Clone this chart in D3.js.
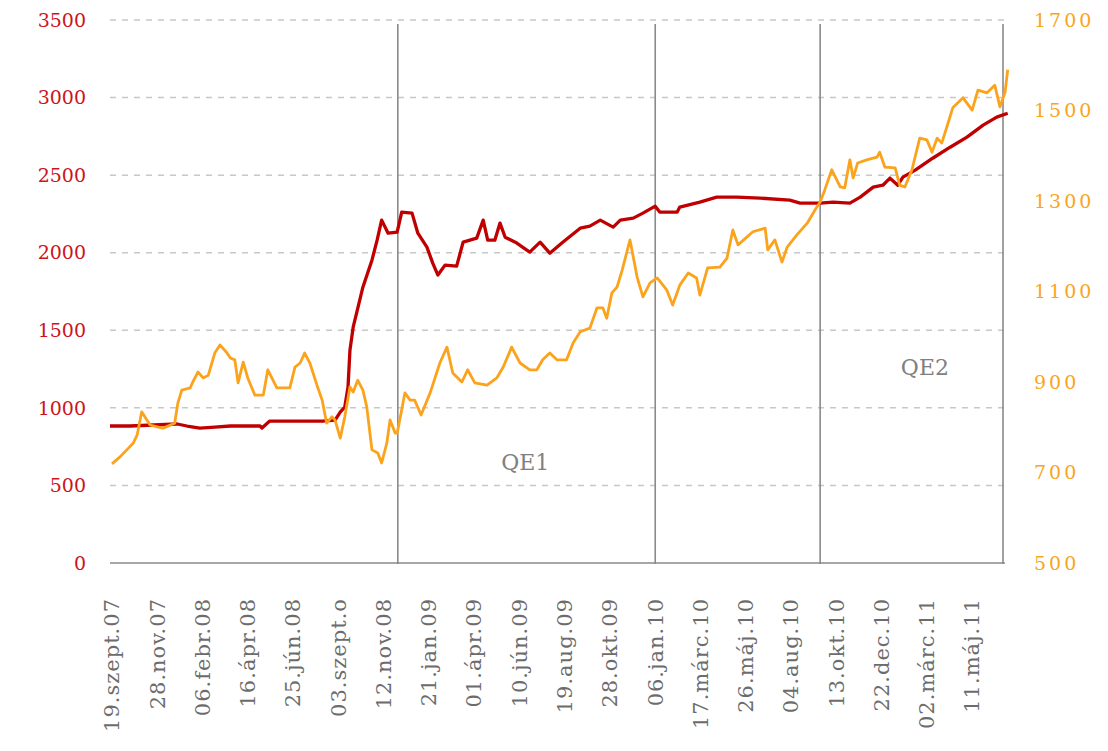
<!DOCTYPE html>
<html>

<head>
    <meta charset="utf-8">
    <title>Fed mérleg és arany</title>
    <style>
        body {
            margin: 0;
            background: #fff;
        }

        svg text {
            font-family: "DejaVu Serif", Georgia, serif;
        }

        .grid line {
            stroke: #c8c8c8;
            stroke-width: 1.5;
            stroke-dasharray: 6, 6;
        }

        .vline {
            stroke: #8a8a8a;
            stroke-width: 1.6;
        }

        .leftLabel {
            fill: #cc1420;
            font-size: 19px;
            text-anchor: end;
        }

        .rightLabel {
            fill: #f9a51d;
            font-size: 19px;
            letter-spacing: 3px;
        }

        .xLabel {
            fill: #6c6c6c;
            font-size: 21px;
            letter-spacing: 1px;
            text-anchor: end;
        }

        .qe {
            fill: #808080;
            font-size: 22px;
            text-anchor: middle;
        }
    </style>
</head>

<body>
    <svg width="1108" height="751"></svg>
    <script src="https://d3js.org/d3.v7.min.js"></script>
    <script>
        // axis ticks
        var leftTicks = [0, 500, 1000, 1500, 2000, 2500, 3000, 3500];
        var rightTicks = [500, 700, 900, 1100, 1300, 1500, 1700];
        var tickDates = ["2007-09-19", "2007-11-28", "2008-02-06", "2008-04-16", "2008-06-25",
            "2008-09-03", "2008-11-12", "2009-01-21", "2009-04-01", "2009-06-10", "2009-08-19",
            "2009-10-28", "2010-01-06", "2010-03-17", "2010-05-26", "2010-08-04", "2010-10-13",
            "2010-12-22", "2011-03-02", "2011-05-11"];
        var tickLabels = ["19.szept.07", "28.nov.07", "06.febr.08", "16.ápr.08", "25.jún.08",
            "03.szept.o", "12.nov.08", "21.jan.09", "01.ápr.09", "10.jún.09", "19.aug.09",
            "28.okt.09", "06.jan.10", "17.márc.10", "26.máj.10", "04.aug.10", "13.okt.10",
            "22.dec.10", "02.márc.11", "11.máj.11"];

        // vertical separators (QE1 start / end, QE2 start, end of data)
        var markerDates = ["2008-12-05", "2010-01-07", "2010-09-19", "2011-06-29"];
        var qeNames = ["QE1", "QE2"];
        var qeDates = ["2009-06-20", "2011-02-28"];
        var qeLevels = [600, 1210];

        // red series (left axis)
        var fedDates = ["2007-09-17", "2007-10-18", "2007-12-30", "2008-01-14", "2008-02-03", "2008-02-26",
            "2008-03-21", "2008-05-06", "2008-05-09", "2008-05-21", "2008-07-07", "2008-08-11", "2008-08-30",
            "2008-09-07", "2008-09-14", "2008-09-19", "2008-09-22", "2008-09-27", "2008-10-12", "2008-10-26",
            "2008-11-03", "2008-11-10", "2008-11-20", "2008-12-04", "2008-12-11", "2008-12-27", "2009-01-05",
            "2009-01-19", "2009-01-28", "2009-02-05", "2009-02-16", "2009-03-06", "2009-03-16", "2009-04-06",
            "2009-04-16", "2009-04-23", "2009-05-04", "2009-05-12", "2009-05-20", "2009-06-07", "2009-06-27",
            "2009-07-13", "2009-07-28", "2009-08-17", "2009-09-13", "2009-09-28", "2009-10-14", "2009-11-03",
            "2009-11-14", "2009-12-04", "2009-12-19", "2010-01-07", "2010-01-14", "2010-02-10", "2010-02-14",
            "2010-03-17", "2010-04-12", "2010-05-13", "2010-06-18", "2010-08-03", "2010-08-19", "2010-09-19",
            "2010-10-09", "2010-11-04", "2010-11-20", "2010-12-10", "2010-12-25", "2011-01-05", "2011-01-17",
            "2011-01-25", "2011-02-13", "2011-03-12", "2011-04-08", "2011-05-04", "2011-05-29", "2011-06-19",
            "2011-07-06"];
        var fedValues = [883, 883, 896, 883, 870, 876,
            883, 883, 870, 915, 915, 915, 921,
            973, 1005, 1134, 1372, 1520, 1778, 1952,
            2081, 2210, 2126, 2133, 2262, 2255, 2126,
            2036, 1933, 1856, 1920, 1914, 2068, 2094,
            2210, 2081, 2081, 2191, 2100, 2062, 2004,
            2068, 1997, 2068, 2158, 2171, 2210, 2165,
            2210, 2223, 2255, 2300, 2262, 2262, 2294,
            2326, 2358, 2358, 2352, 2339, 2320, 2320,
            2326, 2320, 2358, 2423, 2435, 2481, 2435,
            2487, 2532, 2609, 2680, 2745, 2822, 2874,
            2899];

        // orange series (right axis)
        var goldDates = ["2007-09-20", "2007-10-02", "2007-10-13", "2007-10-23", "2007-10-29", "2007-11-05",
            "2007-11-13", "2007-11-18", "2007-11-29", "2007-12-08", "2007-12-26", "2007-12-31", "2008-01-06",
            "2008-01-19", "2008-01-23", "2008-01-31", "2008-02-08", "2008-02-16", "2008-02-26", "2008-03-05",
            "2008-03-16", "2008-03-21", "2008-03-28", "2008-04-02", "2008-04-10", "2008-04-17", "2008-04-28",
            "2008-05-11", "2008-05-18", "2008-05-26", "2008-06-01", "2008-06-21", "2008-06-29", "2008-07-07",
            "2008-07-14", "2008-07-22", "2008-08-02", "2008-08-10", "2008-08-17", "2008-08-25", "2008-08-30",
            "2008-09-07", "2008-09-14", "2008-09-22", "2008-09-27", "2008-10-04", "2008-10-12", "2008-10-18",
            "2008-10-26", "2008-11-04", "2008-11-10", "2008-11-18", "2008-11-23", "2008-12-01", "2008-12-04",
            "2008-12-08", "2008-12-16", "2008-12-24", "2008-12-31", "2009-01-10", "2009-01-24", "2009-02-08",
            "2009-02-19", "2009-02-28", "2009-03-14", "2009-03-23", "2009-04-03", "2009-04-22", "2009-05-07",
            "2009-05-17", "2009-05-30", "2009-06-12", "2009-06-27", "2009-07-08", "2009-07-17", "2009-07-28",
            "2009-08-08", "2009-08-23", "2009-09-02", "2009-09-13", "2009-09-28", "2009-10-09", "2009-10-18",
            "2009-10-24", "2009-11-01", "2009-11-09", "2009-11-17", "2009-11-29", "2009-12-10", "2009-12-19",
            "2009-12-30", "2010-01-10", "2010-01-19", "2010-01-25", "2010-02-03", "2010-02-14", "2010-02-27",
            "2010-03-12", "2010-03-17", "2010-03-29", "2010-04-17", "2010-04-28", "2010-05-07", "2010-05-15",
            "2010-06-07", "2010-06-26", "2010-06-30", "2010-07-11", "2010-07-22", "2010-07-30", "2010-08-14",
            "2010-08-30", "2010-09-11", "2010-09-19", "2010-09-26", "2010-10-07", "2010-10-20", "2010-10-27",
            "2010-11-04", "2010-11-09", "2010-11-16", "2010-11-30", "2010-12-16", "2010-12-20", "2010-12-28",
            "2011-01-13", "2011-01-20", "2011-01-28", "2011-02-08", "2011-02-20", "2011-03-03", "2011-03-11",
            "2011-03-19", "2011-03-26", "2011-04-03", "2011-04-12", "2011-04-28", "2011-05-12", "2011-05-21",
            "2011-06-04", "2011-06-16", "2011-06-24", "2011-07-02", "2011-07-06"];
        var goldValues = [719, 734, 750, 765, 783, 834,
            816, 805, 801, 798, 809, 854, 882,
            887, 900, 922, 909, 915, 964, 982,
            964, 953, 949, 898, 944, 909, 871,
            871, 927, 904, 887, 887, 933, 942,
            964, 942, 893, 860, 809, 823, 816,
            776, 823, 889, 878, 904, 882, 845,
            750, 743, 721, 765, 816, 787, 787,
            816, 876, 860, 860, 827, 876, 942,
            977, 920, 900, 927, 898, 893, 909,
            933, 977, 942, 927, 927, 949, 964,
            949, 949, 986, 1011, 1019, 1064, 1064,
            1041, 1097, 1110, 1148, 1214, 1132, 1088,
            1119, 1130, 1114, 1103, 1070, 1114, 1141,
            1130, 1092, 1152, 1154, 1174, 1236, 1203,
            1232, 1240, 1192, 1214, 1165, 1198, 1225,
            1251, 1280, 1298, 1324, 1369, 1331, 1329,
            1391, 1351, 1384, 1391, 1397, 1408, 1375,
            1373, 1335, 1331, 1369, 1439, 1435, 1408,
            1439, 1428, 1464, 1506, 1528, 1501, 1545,
            1539, 1556, 1508, 1541, 1590];

        var svg = d3.select("svg");
        var parse = d3.timeParse("%Y-%m-%d");

        var x = d3.scaleTime()
            .domain([parse("2007-09-17"), parse("2011-07-08")])
            .range([110, 1009]);
        var yL = d3.scaleLinear().domain([0, 3500]).range([563, 20]);
        var yR = d3.scaleLinear().domain([500, 1700]).range([563, 20]);

        var plotLeft = 110, plotRight = 1008, rightAxisX = 1003;

        svg.append("rect").attr("width", 1108).attr("height", 751).attr("fill", "#fff");

        // dashed grid
        svg.append("g")
            .attr("class", "grid")
            .selectAll("line")
            .data(leftTicks.slice(1))
            .enter().append("line")
            .attr("x1", plotLeft)
            .attr("x2", plotRight)
            .attr("y1", function (d) { return yL(d); })
            .attr("y2", function (d) { return yL(d); });

        // base line
        svg.append("line")
            .attr("class", "vline")
            .attr("x1", plotLeft).attr("x2", rightAxisX + 2)
            .attr("y1", yL(0)).attr("y2", yL(0));

        // vertical markers
        svg.append("g")
            .selectAll("line")
            .data(markerDates)
            .enter().append("line")
            .attr("class", "vline")
            .attr("x1", function (d, i) { return i === 3 ? rightAxisX : x(parse(d)); })
            .attr("x2", function (d, i) { return i === 3 ? rightAxisX : x(parse(d)); })
            .attr("y1", 24)
            .attr("y2", yL(0) + 1);

        // left labels
        svg.append("g")
            .selectAll("text")
            .data(leftTicks)
            .enter().append("text")
            .attr("class", "leftLabel")
            .attr("x", 86)
            .attr("y", function (d) { return yL(d); })
            .attr("dy", "0.35em")
            .text(function (d) { return d; });

        // right labels
        svg.append("g")
            .selectAll("text")
            .data(rightTicks)
            .enter().append("text")
            .attr("class", "rightLabel")
            .attr("x", 1034)
            .attr("y", function (d) { return yR(d); })
            .attr("dy", "0.35em")
            .text(function (d) { return d; });

        // date labels
        svg.append("g")
            .selectAll("text")
            .data(tickDates)
            .enter().append("text")
            .attr("class", "xLabel")
            .attr("transform", function (d) {
                return "translate(" + (x(parse(d)) + 8) + ",598) rotate(-90)";
            })
            .text(function (d, i) { return tickLabels[i]; });

        // QE labels
        svg.append("g")
            .selectAll("text")
            .data(qeNames)
            .enter().append("text")
            .attr("class", "qe")
            .attr("x", function (d, i) { return x(parse(qeDates[i])); })
            .attr("y", function (d, i) { return yL(qeLevels[i]); })
            .text(function (d) { return d; });

        // lines
        var fed = fedDates.map(function (d, i) { return { date: parse(d), value: fedValues[i] }; });
        var gold = goldDates.map(function (d, i) { return { date: parse(d), value: goldValues[i] }; });

        var fedLine = d3.line()
            .x(function (d) { return x(d.date); })
            .y(function (d) { return yL(d.value); });
        var goldLine = d3.line()
            .x(function (d) { return x(d.date); })
            .y(function (d) { return yR(d.value); });

        svg.append("path")
            .datum(fed)
            .attr("fill", "none")
            .attr("stroke", "#c00000")
            .attr("stroke-width", 3.3)
            .attr("stroke-linejoin", "round")
            .attr("d", fedLine);

        svg.append("path")
            .datum(gold)
            .attr("fill", "none")
            .attr("stroke", "#fba31c")
            .attr("stroke-width", 2.8)
            .attr("stroke-linejoin", "round")
            .attr("d", goldLine);
    </script>
</body>

</html>
